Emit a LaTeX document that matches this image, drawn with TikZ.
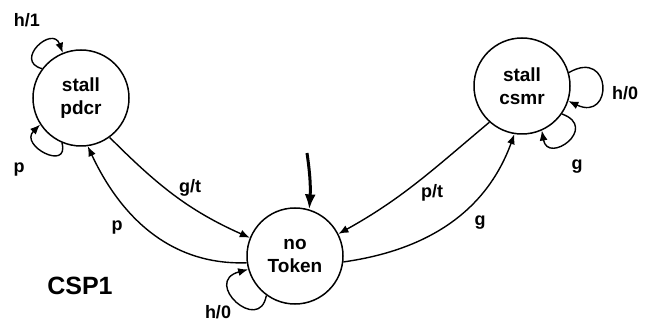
\documentclass[tikz,border=0pt]{standalone}
\usepackage{fontspec}
\setmainfont{Liberation Sans}
\usetikzlibrary{arrows.meta}
\begin{document}
\begin{tikzpicture}[x=1pt,y=1pt,
  state/.style={circle,draw,line width=1.5pt,minimum size=96pt,inner sep=0pt,align=center,
    font=\fontsize{19}{23}\selectfont\bfseries},
  lbl/.style={font=\fontsize{18}{20}\selectfont\bfseries,inner sep=0pt},
  edge/.style={line width=1.4pt,-{Latex[length=10pt,width=8pt]}},
  initedge/.style={line width=3pt,-{Latex[length=15pt,width=11pt]}},
]
\useasboundingbox[fill=white] (0,0) rectangle (652,321);

\node[state] (pdcr) at (81,223) {stall\\pdcr};
\node[state] (csmr) at (522,235) {stall\\csmr};
\node[state] (tok)  at (295,65)  {no\\Token};

\coordinate (init) at (307,168);
\draw[initedge] (init) to[bend left=6] (tok.73);

% transitions between states
\draw[edge] (pdcr.-54) to[out=-45,in=156] (tok.158);
\draw[edge] (tok.188) to[out=182,in=-65] (pdcr.-82);
\draw[edge] (csmr.-132) to[out=-140,in=29] (tok.27);
\draw[edge] (tok.-7) to[out=8,in=-110] (csmr.-99);

% self loops
\draw[edge] (pdcr.143) .. controls +(165:30) and +(110:30) .. (pdcr.112);
\draw[edge] (pdcr.247) .. controls +(-75:30) and +(225:30) .. (pdcr.213);
\draw[edge] (csmr.16) .. controls +(30:50) and +(-25:50) .. (csmr.-18);
\draw[edge] (csmr.-35) .. controls +(-20:40) and +(-80:35) .. (csmr.-66);
\draw[edge] (tok.-126) .. controls +(-100:40) and +(195:48) .. (tok.-164);

% labels
\node[lbl] (l1) at (27,301) {h/1};
\node[lbl] (l2) at (19,151) {p};
\node[lbl] (l3) at (190,133) {g/t};
\node[lbl] (l4) at (117,93) {p};
\node[lbl] (l5) at (432,128) {p/t};
\node[lbl] (l6) at (480,98) {g};
\node[lbl] (l7) at (625,228) {h/0};
\node[lbl] (l8) at (577,154) {g};
\node[lbl] (l9) at (218,9) {h/0};
\node[font=\fontsize{25}{27}\selectfont\bfseries,inner sep=0pt] (csp) at (80,35) {CSP1};
\end{tikzpicture}
\end{document}
